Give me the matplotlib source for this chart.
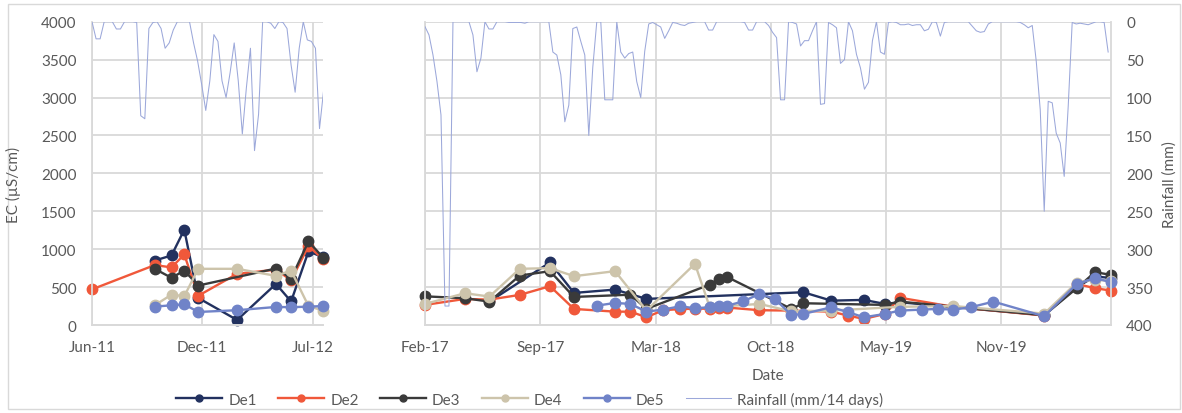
#!/usr/bin/env python3
"""EC of five monitoring bores (De1-De5) against 14-day rainfall, two survey periods."""

import matplotlib

matplotlib.use("Agg")
import matplotlib.dates as mdates
import matplotlib.pyplot as plt
import numpy as np
import pandas as pd
from matplotlib.lines import Line2D
from matplotlib.patches import Rectangle

plt.rcParams["font.family"] = ["Lato", "DejaVu Sans"]

# ---- 2011-2012 campaign -------------------------------------------------
DATES_2011 = ["2011-06-20", "2011-10-06", "2011-11-04", "2011-11-26", "2011-12-20",
              "2012-02-25", "2012-05-02", "2012-05-28", "2012-06-27", "2012-07-22"]
DE1_2011 = [np.nan, 850, 917, 1257, 357, 66, 542, 310, 972, 893]
DE2_2011 = [470, 790, 760, 930, 385, 675, 730, 590, 1040, 870]
DE3_2011 = [np.nan, 741, 622, 718, 520, np.nan, 745, 612, 1102, 890]
DE4_2011 = [np.nan, 260, 400, 380, 741, 741, 648, 718, 250, 190]
DE5_2011 = [np.nan, 242, 260, 272, 172, 195, 238, 235, 242, 250]

# rainfall, 14-day totals sampled weekly
RAIN_2011_START = "2011-06-20"
RAIN_2011 = [0, 22.6, 22.6, 0, 0, 0, 9.6, 9.6, 0, 0,
             0, 1, 124, 128, 9, 1, 0, 9, 35, 28,
             11, 0, 0, 0, 0, 28, 52, 83, 117, 78,
             17, 26, 78, 100, 67, 28, 78, 148, 87, 35,
             170, 122, 0, 0, 2, 9, 0, 1, 9, 57,
             93, 35, 0, 24, 26, 35, 141, 91]

# ---- 2017-2020 campaign -------------------------------------------------
DE1_2017_DATES = ["2017-06-13", "2017-09-27", "2017-11-08", "2018-01-19", "2018-03-15",
                  "2018-12-15", "2019-02-02", "2019-03-31", "2019-05-07", "2019-06-02",
                  "2020-02-10", "2020-04-07", "2020-05-09", "2020-06-06"]
DE1_2017 = [310, 825, 423, 467, 344, 432, 321, 331, 278, 300, 130, 500, 640, 620]

DE2_2017_DATES = ["2017-02-20", "2017-05-01", "2017-06-13", "2017-08-05", "2017-09-27",
                  "2017-11-08", "2018-01-19", "2018-02-15", "2018-03-15", "2018-04-13",
                  "2018-05-13", "2018-06-08", "2018-07-04", "2018-07-20", "2018-08-04",
                  "2018-09-29", "2018-11-24", "2019-02-02", "2019-03-04", "2019-03-31",
                  "2019-05-07", "2019-06-02", "2019-09-04", "2020-02-10", "2020-04-07",
                  "2020-05-09", "2020-06-06"]
DE2_2017 = [265, 344, 335, 397, 512, 212, 176, 176, 102, 195,
            210, 215, 215, 230, 230, 195, 190, 176, 123, 80,
            146, 360, 240, 125, 542, 485, 454]

DE3_2017_DATES = ["2017-02-20", "2017-05-01", "2017-06-13", "2017-08-05", "2017-09-27",
                  "2017-11-08", "2018-02-15", "2018-03-15", "2018-07-04", "2018-07-20",
                  "2018-08-04", "2018-11-24", "2018-12-15", "2019-05-07", "2019-06-02",
                  "2020-02-10", "2020-04-07", "2020-05-09", "2020-06-06"]
DE3_2017 = [378, 353, 308, 652, 710, 370, 400, 212, 533, 608,
            631, 212, 287, 265, 308, 130, 485, 697, 661]

DE4_2017_DATES = ["2017-02-20", "2017-05-01", "2017-06-13", "2017-08-05", "2017-09-27",
                  "2017-11-08", "2018-01-19", "2018-03-15", "2018-06-08", "2018-07-04",
                  "2018-09-29", "2018-11-24", "2019-02-02", "2019-06-02", "2019-09-04",
                  "2020-02-10", "2020-04-07", "2020-05-09", "2020-06-06"]
DE4_2017 = [278, 419, 375, 741, 750, 644, 710, 190, 807, 234,
            278, 180, 190, 240, 250, 150, 560, 600, 580]

DE5_2017_DATES = ["2017-12-18", "2018-01-19", "2018-02-15", "2018-03-15", "2018-04-13",
                  "2018-05-13", "2018-06-08", "2018-07-04", "2018-07-20", "2018-08-04",
                  "2018-09-01", "2018-09-29", "2018-10-26", "2018-11-24", "2018-12-15",
                  "2019-02-02", "2019-03-04", "2019-03-31", "2019-05-07", "2019-06-02",
                  "2019-07-10", "2019-08-07", "2019-09-04", "2019-10-04", "2019-11-13",
                  "2020-02-10", "2020-04-07", "2020-05-09", "2020-06-06"]
DE5_2017 = [255, 291, 278, 176, 203, 247, 221, 234, 247, 255,
            313, 410, 344, 132, 146, 234, 168, 102, 146, 190,
            203, 212, 203, 234, 308, 115, 542, 618, 565]

RAIN_2017_START = "2017-02-20"
RAIN_2017 = [6.6, 17.5, 44, 79, 123, 375, 375, 0, 0, 0,
             0, 0, 17.5, 66, 48, 0, 9.6, 9.6, 0, 0,
             0, 1, 1, 1, 1, 2, 0, 0, 0, 0,
             0, 0, 40, 44, 70, 132, 110, 9, 7, 26,
             44, 150, 60, 0, 0, 103, 103, 103, 0, 40,
             48, 42, 40, 79, 100, 39, 3, 1, 4, 7,
             22, 12, 1, 2, 4, 5, 2, 1, 0, 0,
             0, 11, 11, 0, 0, 0, 0, 0, 0, 0,
             1, 11, 11, 0, 0, 0, 5, 14, 21, 103,
             103, 0, 1, 3, 32, 25, 25, 12, 0, 109,
             108, 1, 4, 8, 55, 50, 0, 12, 43, 61,
             89, 80, 25, 0, 40, 43, 1, 0, 1, 4,
             4, 3, 5, 4, 4, 12, 10, 0, 1, 19,
             1, 0, 0, 0, 0, 0, 0, 6, 12, 14,
             13, 3, 0, 0, 0, 0, 0, 0, 0, 1,
             4, 8, 5, 52, 116, 250, 105, 107, 147, 160,
             204, 112, 1, 3, 2, 3, 4, 2, 0, 0,
             1, 40]

TICKS_2011 = ["2011-06-20", "2011-12-27", "2012-07-04"]
TICKS_2017 = ["2017-02-20", "2017-09-10", "2018-03-31", "2018-10-19", "2019-05-09", "2019-11-27"]

NAMES = ["De1", "De2", "De3", "De4", "De5"]
COLORS = ["#22315F", "#F0583A", "#3A3A3A", "#CDC4AB", "#7083C8"]
RAIN_COLOR = "#9CA8DA"
GRID = "#D9D9D9"
TEXT = "#595959"
FS = 11

W, H = 1182, 414
fig = plt.figure(figsize=(W / 100, H / 100), dpi=100)


def add_panel(x0, x1):
    return fig.add_axes([x0 / W, 1 - 326 / H, (x1 - x0) / W, (326 - 22.7) / H])


def style_panel(ax, ax2, ticks, xlim, show_left, show_right):
    ax.set_xlim(pd.to_datetime(xlim[0]), pd.to_datetime(xlim[1]))
    ax.set_ylim(0, 4000)
    ax.set_yticks(np.arange(0, 4001, 500))
    ax.set_xticks(pd.to_datetime(ticks))
    ax.xaxis.set_major_formatter(mdates.DateFormatter("%b-%y"))
    ax.grid(True, color=GRID, lw=1.3)
    ax.set_axisbelow(True)
    ax2.set_ylim(400, 0)
    ax2.set_yticks(np.arange(0, 401, 50))
    for a in (ax, ax2):
        a.tick_params(length=0, labelsize=FS, labelcolor=TEXT)
        for s in a.spines.values():
            s.set_color(GRID)
            s.set_linewidth(1.3)
        a.spines["top"].set_visible(False)
    ax.tick_params(axis="x", pad=11)
    ax.tick_params(axis="y", pad=11, labelleft=show_left)
    ax2.tick_params(axis="y", pad=11, labelright=show_right)
    ax.spines["right"].set_visible(False)
    ax2.spines["left"].set_visible(False)
    ax2.spines["right"].set_visible(show_right)


def plot_series(ax, dates, values, color):
    d = pd.to_datetime(pd.Series(dates))
    v = pd.Series(values, dtype=float)
    keep = v.notna()
    ax.plot(d[keep], v[keep], color=color, lw=1.7, marker="o", ms=7.5,
            mec=color, mfc=color, clip_on=False)


# left panel: 2011-2012
ax_l = add_panel(92, 323)
for vals, c in zip([DE1_2011, DE2_2011, DE3_2011, DE4_2011, DE5_2011], COLORS):
    plot_series(ax_l, DATES_2011, vals, c)
ax_l2 = ax_l.twinx()
rain_dates = pd.date_range(RAIN_2011_START, periods=len(RAIN_2011), freq="7D")
ax_l2.plot(rain_dates, RAIN_2011, color=RAIN_COLOR, lw=0.75)
style_panel(ax_l, ax_l2, TICKS_2011, ("2011-06-20", "2012-07-22"), True, False)

# right panel: 2017-2020
ax_r = add_panel(425, 1111)
series_2017 = [(DE1_2017_DATES, DE1_2017), (DE2_2017_DATES, DE2_2017), (DE3_2017_DATES, DE3_2017),
               (DE4_2017_DATES, DE4_2017), (DE5_2017_DATES, DE5_2017)]
for (d, vals), c in zip(series_2017, COLORS):
    plot_series(ax_r, d, vals, c)
ax_r2 = ax_r.twinx()
rain_dates = pd.date_range(RAIN_2017_START, periods=len(RAIN_2017), freq="7D")
ax_r2.plot(rain_dates, RAIN_2017, color=RAIN_COLOR, lw=0.75)
style_panel(ax_r, ax_r2, TICKS_2017, ("2017-02-20", "2020-06-06"), False, True)

fig.text(13 / W, 1 - 185 / H, "EC (µS/cm)", rotation=90, ha="center", va="center",
         fontsize=FS, color=TEXT)
fig.text(1170 / W, 1 - 185 / H, "Rainfall (mm)", rotation=90, ha="center", va="center",
         fontsize=FS, color=TEXT)
fig.text(768 / W, 1 - 376 / H, "Date", ha="center", va="center", fontsize=FS, color=TEXT)

handles = [Line2D([0], [0], color=c, lw=1.7, marker="o", ms=5) for c in COLORS]
handles.append(Line2D([0], [0], color=RAIN_COLOR, lw=0.75))
fig.legend(handles, NAMES + ["Rainfall (mm/14 days)"], loc="center",
           bbox_to_anchor=(530 / W, 1 - 400 / H), ncol=6, frameon=False,
           fontsize=FS, labelcolor=TEXT, handlelength=3, handletextpad=0.4,
           columnspacing=1.4)

fig.patches.append(Rectangle((8 / W, 4 / H), 1172 / W, 405 / H, transform=fig.transFigure,
                             fill=False, ec=GRID, lw=1))

fig.savefig("out.png", dpi=100)
